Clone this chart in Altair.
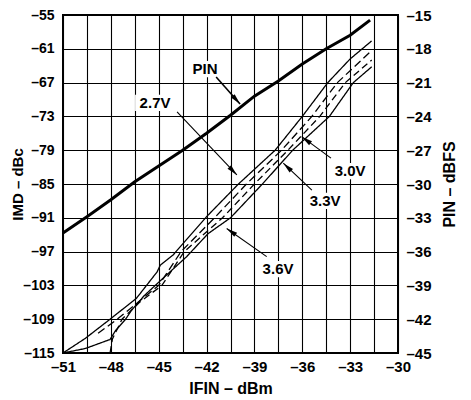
import math
import altair as alt
import pandas as pd

# ---------------- data ----------------
x_ticks = [-51, -49.5, -48, -46.5, -45, -43.5, -42, -40.5, -39, -37.5, -36, -34.5, -33, -31.5, -30]
y_left_ticks = [-115, -109, -103, -97, -91, -85, -79, -73, -67, -61, -55]
y_right_ticks = [-45, -42, -39, -36, -33, -30, -27, -24, -21, -18, -15]

series_names = ["2.7V", "3.0V", "3.3V", "3.6V"]

imd27_x = [-51.0, -49.6, -48.05, -46.4, -45.1, -44.9, -44.1, -42.0, -40.0, -37.7, -36.0, -34.4, -33.0, -31.65]
imd27_y = [-115.0, -112.4, -109.0, -105.3, -100.6, -99.4, -97.6, -90.8, -85.0, -79.0, -73.0, -67.0, -62.8, -59.6]

imd30_x = [-48.8, -47.6, -46.3, -45.0, -43.6, -41.5, -39.5, -37.3, -35.4, -33.8, -31.65]
imd30_y = [-111.5, -109.0, -106.0, -103.0, -97.0, -91.0, -85.0, -79.0, -73.0, -67.0, -61.3]

imd33_x = [-48.05, -47.9, -47.3, -46.2, -44.8, -43.4, -41.0, -39.0, -36.9, -34.9, -33.3, -31.65]
imd33_y = [-115.0, -112.5, -109.0, -106.0, -103.0, -97.0, -91.0, -85.0, -79.0, -73.0, -67.0, -63.0]

imd36_x = [-51.0, -49.6, -48.05, -47.7, -47.1, -46.7, -45.9, -45.1, -43.25, -41.9, -40.5, -38.5, -36.6, -34.3, -32.8, -31.65]
imd36_y = [-115.0, -114.2, -112.6, -111.0, -109.1, -107.4, -104.8, -102.7, -97.9, -93.8, -91.0, -85.0, -79.0, -73.0, -67.0, -64.2]

pin_x = [-51, -49.5, -48, -46.5, -45, -43.5, -42, -40.5, -39, -37.5, -36, -34.5, -33, -31.75]
pin_y = [-34.35, -32.9, -31.4, -29.8, -28.4, -27.0, -25.5, -23.9, -22.2, -20.85, -19.35, -18.0, -16.8, -15.45]

label_text = ["PIN", "2.7V", "3.0V", "3.3V", "3.6V"]
label_x = [-42.1, -45.23, -33.0, -34.57, -37.52]
label_y = [-64.6, -70.6, -82.7, -88.0, -100.1]
label_halfw = [0.95, 1.25, 1.25, 1.25, 1.25]
label_halfh = [1.45, 1.45, 1.45, 1.45, 1.45]
arrow_x1 = [-41.4, -43.85, -34.2, -35.4, -38.23]
arrow_y1 = [-66.0, -72.2, -80.4, -86.1, -97.9]
arrow_x2 = [-39.9, -40.1, -36.04, -37.19, -40.74]
arrow_y2 = [-70.8, -83.4, -76.6, -81.3, -92.9]
arrow_w = [1.6, 1.1, 1.1, 1.1, 1.1]

# ---------------- layout ----------------
W, H = 335, 338
X_DOM = [-51, -30]
YL_DOM = [-115, -55]
YR_DOM = [-45, -15]
FONT = "Liberation Sans"

rows = []
for name, xs_, ys_ in zip(series_names, [imd27_x, imd30_x, imd33_x, imd36_x],
                          [imd27_y, imd30_y, imd33_y, imd36_y]):
    for i, (a, b) in enumerate(zip(xs_, ys_)):
        rows.append({"series": name, "x": a, "y": b, "order": i})
imd_df = pd.DataFrame(rows)
pin_df = pd.DataFrame({"x": pin_x, "y": pin_y})

pxx = W / (X_DOM[1] - X_DOM[0])
pxy = H / (YL_DOM[1] - YL_DOM[0])
ann = pd.DataFrame({
    "text": label_text, "x": label_x, "y": label_y,
    "bx": [a - w for a, w in zip(label_x, label_halfw)],
    "bx2": [a + w for a, w in zip(label_x, label_halfw)],
    "by": [a - h for a, h in zip(label_y, label_halfh)],
    "by2": [a + h for a, h in zip(label_y, label_halfh)],
    "x1": arrow_x1, "y1": arrow_y1, "x2": arrow_x2, "y2": arrow_y2, "w": arrow_w,
})
ann["angle"] = [
    (math.degrees(math.atan2((bx - ax) * pxx, (by - ay) * pxy)) + 360) % 360
    for ax, ay, bx, by in zip(arrow_x1, arrow_y1, arrow_x2, arrow_y2)
]

xs = alt.Scale(domain=X_DOM, nice=False, zero=False)
yl = alt.Scale(domain=YL_DOM, nice=False, zero=False)
yr = alt.Scale(domain=YR_DOM, nice=False, zero=False)

neg_label = "'\u2013' + abs(datum.value)"

x_axis = alt.Axis(values=x_ticks, grid=True, ticks=False, domain=False, labelFlush=False,
                  labelExpr="datum.value % 3 == 0 ? '\u2013' + abs(datum.value) : ''",
                  labelPadding=6, title="IFIN \u2013 dBm", titlePadding=6)
yl_axis = alt.Axis(values=y_left_ticks, grid=True, ticks=False, domain=False, labelFlush=False,
                   labelExpr=neg_label, labelPadding=9, labelFontSize=14,
                   title="IMD \u2013 dBc", titleFontSize=15,
                   titleX=-38, titleY=H / 2, titleAngle=270, titleBaseline="bottom")
yr_axis = alt.Axis(values=y_right_ticks, grid=False, ticks=False, domain=False, labelFlush=False,
                   orient="right", labelExpr=neg_label, labelPadding=8,
                   title="PIN \u2013 dBFS", titleAngle=270, titleBaseline="top",
                   titlePadding=10)

imd = alt.Chart(imd_df).mark_line(color="black", strokeWidth=1.3).encode(
    x=alt.X("x:Q", scale=xs, axis=x_axis),
    y=alt.Y("y:Q", scale=yl, axis=yl_axis),
    detail="series:N",
    order="order:Q",
    strokeDash=alt.StrokeDash("series:N", legend=None,
                              scale=alt.Scale(domain=series_names,
                                              range=[[1, 0], [8, 4], [7, 4], [1, 0]])),
)

boxes = alt.Chart(ann).mark_rect(color="white").encode(
    x=alt.X("bx:Q", scale=xs, axis=x_axis), x2="bx2",
    y=alt.Y("by:Q", scale=yl, axis=yl_axis), y2="by2",
)
texts = alt.Chart(ann).mark_text(font=FONT, fontSize=15, fontWeight="bold",
                                 color="black", align="center", baseline="middle").encode(
    x=alt.X("x:Q", scale=xs, axis=x_axis),
    y=alt.Y("y:Q", scale=yl, axis=yl_axis),
    text="text:N",
)
arrows = alt.Chart(ann).mark_rule(color="black").encode(
    x=alt.X("x1:Q", scale=xs, axis=x_axis), x2="x2",
    y=alt.Y("y1:Q", scale=yl, axis=yl_axis), y2="y2",
    strokeWidth=alt.StrokeWidth("w:Q", scale=None),
)
heads = alt.Chart(ann).mark_point(shape="M0,0L-0.45,2L0.45,2Z", filled=True,
                                  color="black", opacity=1, size=121).encode(
    x=alt.X("x2:Q", scale=xs, axis=x_axis),
    y=alt.Y("y2:Q", scale=yl, axis=yl_axis),
    angle=alt.Angle("angle:Q", scale=None),
)

left = alt.layer(imd, boxes, arrows, heads, texts)

pin = alt.Chart(pin_df).mark_line(color="black", strokeWidth=3).encode(
    x=alt.X("x:Q", scale=xs, axis=x_axis),
    y=alt.Y("y:Q", scale=yr, axis=yr_axis),
)

chart = alt.layer(left, pin).resolve_scale(y="independent").properties(
    width=W, height=H,
    autosize=alt.AutoSizeParams(type="none"),
    padding={"left": 55, "top": 7, "right": 60, "bottom": 45},
).configure_view(stroke="black", strokeWidth=2).configure_axis(
    gridColor="black", gridWidth=1.1, gridOpacity=1,
    labelFont=FONT, labelFontSize=15, labelFontWeight="bold", labelColor="black",
    titleFont=FONT, titleFontSize=16, titleFontWeight="bold", titleColor="black",
)

chart.save("out.html", embed_options={"renderer": "svg", "actions": False})
